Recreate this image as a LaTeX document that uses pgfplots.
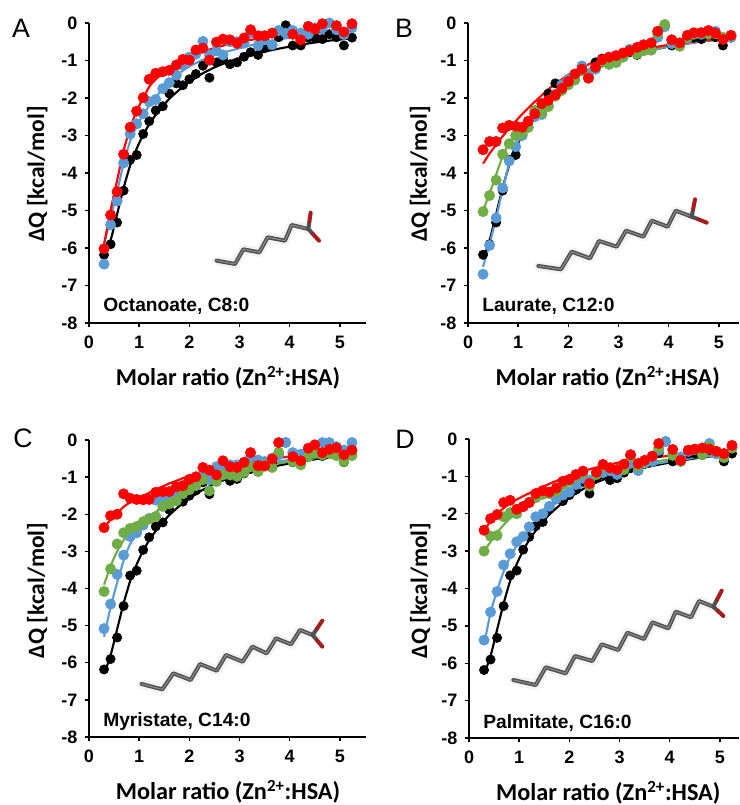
\documentclass[border=0pt]{standalone}
\usepackage{fontspec}
\setmainfont{Liberation Sans}
\newfontfamily\calfont{Carlito}
\usepackage{pgfplots}
\usepackage{pgfplotstable}
\usetikzlibrary{calc}
\pgfplotsset{compat=1.18}
\definecolor{cblue}{HTML}{5B9BD5}
\definecolor{cgreen}{HTML}{70AD47}
\definecolor{cred}{HTML}{FF0000}
\definecolor{molgray}{HTML}{505050}
\definecolor{oxred}{HTML}{A51C1C}

\pgfplotstableread{
name 1 2 3 4 5 6 7 8 9 10 11 12 13 14 15 16 17 18 19 20 21 22 23 24 25 26 27 28 29 30 31 32 33 34 35 36 37
x 0.30 0.43 0.56 0.69 0.82 0.95 1.08 1.20 1.33 1.47 1.60 1.74 1.87 2.00 2.13 2.27 2.40 2.54 2.67 2.81 2.95 3.09 3.22 3.37 3.50 3.65 3.78 3.92 4.06 4.22 4.37 4.50 4.65 4.79 4.93 5.08 5.24
k -6.18 -5.9 -5.32 -4.47 -3.65 -3.52 -2.96 -2.62 -2.33 -2.22 -1.88 -1.61 -1.66 -1.5 -1.36 -1.14 -1.46 -1.05 -.95 -1.1 -1.05 -.9 -.78 -.85 -.67 -.6 -.38 -.06 -.6 -.6 -.39 -.39 -.43 -.3 -.38 -.6 -.39
ab -6.43 -5.38 -4.75 -3.73 -2.96 -2.69 -2.42 -2.1 -2.04 -1.75 -1.59 -1.39 -1.12 -.91 -.83 -.49 -.85 -.74 -.85 -.5 -.5 -.54 -.27 -.6 -.45 -.58 -.2 -.27 -.2 -.27 -.3 -.13 -.13 0 -.18 -.31 -.13
ar -6.02 -5.12 -4.5 -3.5 -2.78 -2.35 -1.99 -1.5 -1.34 -1.3 -1.26 -1.12 -.97 -.99 -.72 -.67 -.99 -.51 -.43 -.45 -.54 -.4 -.18 -.34 -.34 -.27 nan nan -.3 -.45 -.09 -.16 -.02 nan -.07 -.24 -.02
bb -6.7 -5.93 -5.2 -4.4 -3.68 -3.3 -3.0 -2.78 -2.5 -2.44 -2.2 -1.9 -1.65 -1.5 -1.38 -1.15 -1.4 -1.23 -1.02 -1.1 -1.05 -.9 -.7 -.82 -.7 -.72 -.38 -.1 -.55 -.55 -.4 -.3 -.3 -.25 -.22 -.4 -.38
bg -5.03 -4.6 -4.19 -3.5 -3.22 -3.0 -2.95 -2.78 -2.35 -2.4 -2.23 -1.95 -1.8 -1.65 -1.52 -1.27 -1.47 -1.18 -1.05 -1.1 -1.05 -.91 -.74 -.82 -.74 -.72 -.28 -.04 -.45 -.62 -.38 -.29 -.26 -.29 -.29 -.38 -.33
br -3.38 -3.16 -3.16 -2.8 -2.73 -2.75 -2.78 -2.62 -2.42 -2.15 -2.06 -1.92 -1.74 -1.56 -1.36 -1.23 -1.47 -1.18 -.98 -.91 -.87 -.8 -.74 -.65 -.58 -.53 -.22 nan -.45 -.53 -.33 -.26 -.26 -.2 -.27 -.44 -.33
cb -5.08 -4.42 -3.62 -3.1 -2.6 -2.5 -2.29 -2.11 -1.62 -1.55 -1.5 -1.5 -1.35 -1.2 -1.05 -.95 -1.07 -.72 -.76 -.67 -.67 -.63 -.45 -.54 -.58 -.49 -.4 -.07 -.34 -.38 -.27 -.22 -.07 -.07 -.18 -.27 -.07
cg -4.08 -3.47 -2.8 -2.5 -2.38 -2.33 -2.2 -2.13 -2.06 -1.79 -1.72 -1.64 -1.45 -1.34 -1.23 -1.07 -1.37 -1.12 -.94 -.94 -.98 -.87 -.72 -.85 -.67 -.74 -.33 nan -.58 -.67 -.45 -.36 -.4 -.36 -.42 -.58 -.42
cr -2.36 -2.04 -2.0 -1.45 -1.57 -1.6 -1.61 -1.6 -1.41 -1.39 -1.39 -1.26 -1.23 -1.06 -.99 -.74 -.81 -.94 -.56 -.72 -.74 -.6 -.34 -.69 -.7 -.51 -.07 nan -.45 -.56 -.22 -.13 -.34 -.25 -.21 -.4 -.27
db -5.38 -4.63 -4.08 -3.37 -3.07 -2.75 -2.61 -2.35 -2.08 -2.0 -1.8 -1.6 -1.5 -1.42 -1.22 -1.05 -1.1 -.9 -.9 -.85 -.95 -.8 -.65 -.84 -.65 -.6 -.3 -.07 -.42 -.48 -.33 -.28 -.3 -.12 -.4 -.42 -.24
dg -3.0 -2.6 -2.58 -2.08 -1.97 -2.0 -1.8 -1.69 -1.57 -1.48 -1.46 -1.4 -1.22 -1.13 -1.0 -.91 -1.26 -.95 -.73 -.77 -.82 -.82 -.46 -.73 -.6 -.46 -.24 nan -.44 -.6 -.3 -.28 -.42 -.2 -.33 -.5 -.24
dr -2.44 -2.13 -2.02 -1.7 -1.64 -1.88 -1.81 -1.7 -1.46 -1.38 -1.42 -1.31 -1.13 -1.08 -.95 -.86 -1.19 -.89 -.68 -.77 -.82 -.67 -.42 -.66 -.57 -.46 -.12 nan -.28 -.57 -.3 -.27 -.24 -.27 -.33 -.39 -.17
}\rawpts
\pgfplotstabletranspose[colnames from=name]\pts\rawpts

\pgfplotstableread{
name 1 2 3 4 5 6 7 8 9 10 11 12 13 14 15 16 17 18 19 20 21 22 23 24 25 26
x .3 .43 .56 .69 .82 .95 1.08 1.2 1.33 1.47 1.6 1.74 1.87 2.0 2.27 2.54 2.81 3.09 3.37 3.65 3.92 4.22 4.5 4.79 5.08 5.24
k -6.3 -5.8 -5.1 -4.4 -3.8 -3.35 -2.98 -2.7 -2.45 -2.22 -2.02 -1.85 -1.7 -1.57 -1.34 -1.16 -1.02 -.9 -.8 -.72 -.65 -.58 -.52 -.47 -.43 -.41
ab -5.9 -5.2 -4.5 -3.75 -3.15 -2.75 -2.45 -2.2 -1.98 -1.75 -1.58 -1.4 -1.27 -1.16 -.98 -.84 -.74 -.64 -.55 -.47 -.41 -.35 -.3 -.25 -.22 -.2
ar -5.9 -5.0 -4.2 -3.4 -2.8 -2.35 -2.0 -1.7 -1.5 -1.35 -1.22 -1.1 -1.0 -.92 -.77 -.65 -.56 -.48 -.42 -.37 -.32 -.28 -.25 -.22 -.19 -.18
bb -6.5 -5.9 -5.2 -4.45 -3.75 -3.3 -2.95 -2.7 -2.45 -2.2 -2.0 -1.84 -1.7 -1.57 -1.34 -1.16 -1.02 -.9 -.8 -.72 -.65 -.58 -.52 -.47 -.43 -.41
bg -5.0 -4.55 -4.05 -3.55 -3.2 -2.95 -2.72 -2.55 -2.38 -2.2 -2.03 -1.87 -1.74 -1.6 -1.36 -1.18 -1.03 -.9 -.8 -.7 -.62 -.55 -.5 -.45 -.41 -.39
br -3.75 -3.48 -3.25 -3.02 -2.82 -2.62 -2.43 -2.27 -2.1 -1.93 -1.77 -1.62 -1.5 -1.38 -1.18 -1.03 -.92 -.82 -.73 -.66 -.6 -.54 -.49 -.45 -.42 -.4
cb -5.3 -4.5 -3.85 -3.25 -2.8 -2.55 -2.35 -2.15 -1.95 -1.75 -1.6 -1.5 -1.4 -1.3 -1.1 -.95 -.85 -.75 -.68 -.6 -.55 -.5 -.45 -.42 -.38 -.36
cg -3.9 -3.4 -3.0 -2.7 -2.5 -2.35 -2.2 -2.08 -1.95 -1.82 -1.72 -1.6 -1.5 -1.4 -1.2 -1.05 -.92 -.82 -.73 -.66 -.6 -.54 -.49 -.45 -.42 -.4
cr -2.35 -2.15 -1.98 -1.8 -1.68 -1.58 -1.5 -1.42 -1.33 -1.25 -1.17 -1.1 -1.03 -.97 -.85 -.75 -.68 -.6 -.55 -.5 -.46 -.42 -.39 -.36 -.34 -.33
db -5.5 -4.65 -4.05 -3.55 -3.15 -2.85 -2.6 -2.4 -2.2 -2.02 -1.86 -1.7 -1.57 -1.45 -1.25 -1.1 -.97 -.85 -.76 -.68 -.62 -.56 -.5 -.46 -.42 -.4
dg -3.0 -2.75 -2.5 -2.3 -2.12 -2.0 -1.88 -1.78 -1.67 -1.57 -1.48 -1.38 -1.3 -1.22 -1.07 -.95 -.85 -.76 -.68 -.62 -.56 -.5 -.46 -.42 -.39 -.37
dr -2.45 -2.2 -2.0 -1.85 -1.72 -1.62 -1.53 -1.45 -1.37 -1.28 -1.2 -1.12 -1.05 -.98 -.86 -.76 -.68 -.6 -.55 -.5 -.46 -.42 -.39 -.36 -.33 -.32
}\rawfit
\pgfplotstabletranspose[colnames from=name]\fit\rawfit

\pgfplotsset{
  panel/.style={
    scale only axis,
    clip=false,
    ymin=-8, ymax=0, xmin=0,
    axis x line*=bottom, axis y line*=left,
    axis line style={line width=1.1pt,-},
    tick style={line width=1.1pt,black},
    tick align=outside,
    major tick length=3.2pt,
    xtick={0,1,2,3,4,5},
    ytick={-8,-7,-6,-5,-4,-3,-2,-1,0},
    yticklabels={-8,-7,-6,-5,-4,-3,-2,-1,0},
    xticklabels={0,1,2,3,4,5},
    tick label style={font=\fontsize{13.5}{15}\selectfont\bfseries},
    xticklabel style={yshift=-3pt},
    yticklabel style={xshift=-2pt},
    xlabel={Molar ratio (Zn\textsuperscript{2+}:HSA)},
    xlabel style={font=\fontsize{18.2}{20}\calfont\bfseries},
    ylabel style={font=\fontsize{17.6}{20}\calfont\bfseries},
  },
  fitl/.style={no marks,line width=1.6pt,smooth,tension=0.4},
  pt/.style={only marks,mark=*,mark size=#1},
  pt/.default=3.9pt,
  letter/.style={},
}
\newcommand{\deltaQ}{\calfont\char"0394 Q [kcal/mol]}
\newcommand{\seriesplot}[2]{%
  \addplot[#2,fitl] table[x=x,y=#1]{\fit};
  \addplot[pt,#2,mark options={fill=#2,draw=#2}] table[x=x,y=#1]{\pts};
}
\newcommand{\blackplot}{%
  \addplot[black,fitl] table[x=x,y=k]{\fit};
  \addplot[pt=3.5pt,black,mark options={fill=black,draw=black}] table[x=x,y=k]{\pts};
}
% molecule: offset, chain in zoom pixels, carboxyl carbon, two oxygens
\newcommand{\mol}[6]{%
  \begin{scope}[shift={(#1,#2)},xscale=1/3,yscale=1/3,line cap=round,line join=round]
    \draw[line width=7pt,black!8,opacity=.6] #3;
    \draw[line width=3pt,molgray] #3;
    \draw[line width=.8pt,white!35!molgray] #3;
    \draw[line width=3pt,molgray] #4 -- ($#4!.45!#5$);
    \draw[line width=3pt,molgray] #4 -- ($#4!.45!#6$);
    \draw[line width=3pt,oxred] ($#4!.45!#5$) -- #5;
    \draw[line width=3pt,oxred] ($#4!.45!#6$) -- #6;
  \end{scope}
}
\begin{document}
\begin{tikzpicture}[x=0.75pt,y=-0.75pt]
\path[use as bounding box] (0,0) rectangle (739,805);

% Panel A
\begin{axis}[panel,at={(89*0.75pt,-323*0.75pt)},anchor=south west,width=207.75pt,height=225pt,xmax=5.52,
  xlabel style={at={(axis description cs:0.502,-0.183)},anchor=center},
  ylabel style={at={(axis description cs:-0.187,0.497)},anchor=center},
  ylabel={\deltaQ}]
\blackplot
\seriesplot{ab}{cblue}
\seriesplot{ar}{cred}
\end{axis}

% Panel B
\begin{axis}[panel,at={(468*0.75pt,-323*0.75pt)},anchor=south west,width=203.25pt,height=225pt,xmax=5.4,
  xlabel style={at={(axis description cs:0.516,-0.183)},anchor=center},
  ylabel style={at={(axis description cs:-0.177,0.497)},anchor=center},
  ylabel={\deltaQ}]
\blackplot
\seriesplot{bb}{cblue}
\seriesplot{bg}{cgreen}
\seriesplot{br}{cred}
\end{axis}

% Panel C
\begin{axis}[panel,at={(89*0.75pt,-737*0.75pt)},anchor=south west,width=207.75pt,height=222.75pt,xmax=5.52,
  xlabel style={at={(axis description cs:0.502,-0.185)},anchor=center},
  ylabel style={at={(axis description cs:-0.187,0.493)},anchor=center},
  ylabel={\deltaQ}]
\blackplot
\seriesplot{cb}{cblue}
\seriesplot{cg}{cgreen}
\seriesplot{cr}{cred}
\end{axis}

% Panel D
\begin{axis}[panel,at={(469*0.75pt,-738*0.75pt)},anchor=south west,width=202.5pt,height=224.25pt,xmax=5.38,
  xlabel style={at={(axis description cs:0.516,-0.183)},anchor=center},
  ylabel style={at={(axis description cs:-0.18,0.493)},anchor=center},
  ylabel={\deltaQ}]
\blackplot
\seriesplot{db}{cblue}
\seriesplot{dg}{cgreen}
\seriesplot{dr}{cred}
\end{axis}

% Panel letters
\node[font=\fontsize{20}{22}\selectfont] at (21,28) {A};
\node[font=\fontsize{20}{22}\selectfont] at (404,28) {B};
\node[font=\fontsize{20}{22}\selectfont] at (23,438) {C};
\node[font=\fontsize{20}{22}\selectfont] at (405,439) {D};

% Panel captions
\node[anchor=west,inner sep=0pt,font=\fontsize{14.4}{16}\selectfont\bfseries] at (103,306.5) {Octanoate, C8:0};
\node[anchor=west,inner sep=0pt,font=\fontsize{14.4}{16}\selectfont\bfseries] at (482,306.5) {Laurate, C12:0};
\node[anchor=west,inner sep=0pt,font=\fontsize{14.4}{16}\selectfont\bfseries] at (103,722) {Myristate, C14:0};
\node[anchor=west,inner sep=0pt,font=\fontsize{14.4}{16}\selectfont\bfseries] at (483,723) {Palmitate, C16:0};

% Molecules
\mol{0}{190}{(650,212)--(705,222)--(730,178)--(778,187)--(803,142)--(855,152)--(875,105)--(925,117)}{(925,117)}{(932,68)}{(957,152)}
\mol{500}{180}{(115,258)--(183,268)--(215,215)--(270,235)--(297,183)--(350,200)--(378,152)--(430,170)--(455,122)--(503,140)--(527,92)--(575,110)}{(575,110)}{(585,58)}{(620,128)}
\mol{120}{600}{(65,252)--(127,268)--(160,220)--(212,240)--(240,192)--(290,212)--(318,165)--(368,185)--(397,140)--(440,160)--(468,115)--(513,133)--(540,90)--(578,105)}{(578,105)}{(607,62)}{(607,140)}
\mol{490}{580}{(70,300)--(137,315)--(167,262)--(227,280)--(255,228)--(307,243)--(335,193)--(385,210)--(412,158)--(462,177)--(487,127)--(535,145)--(557,95)--(603,112)--(627,63)--(670,80)}{(670,80)}{(695,32)}{(700,108)}
\end{tikzpicture}
\end{document}
